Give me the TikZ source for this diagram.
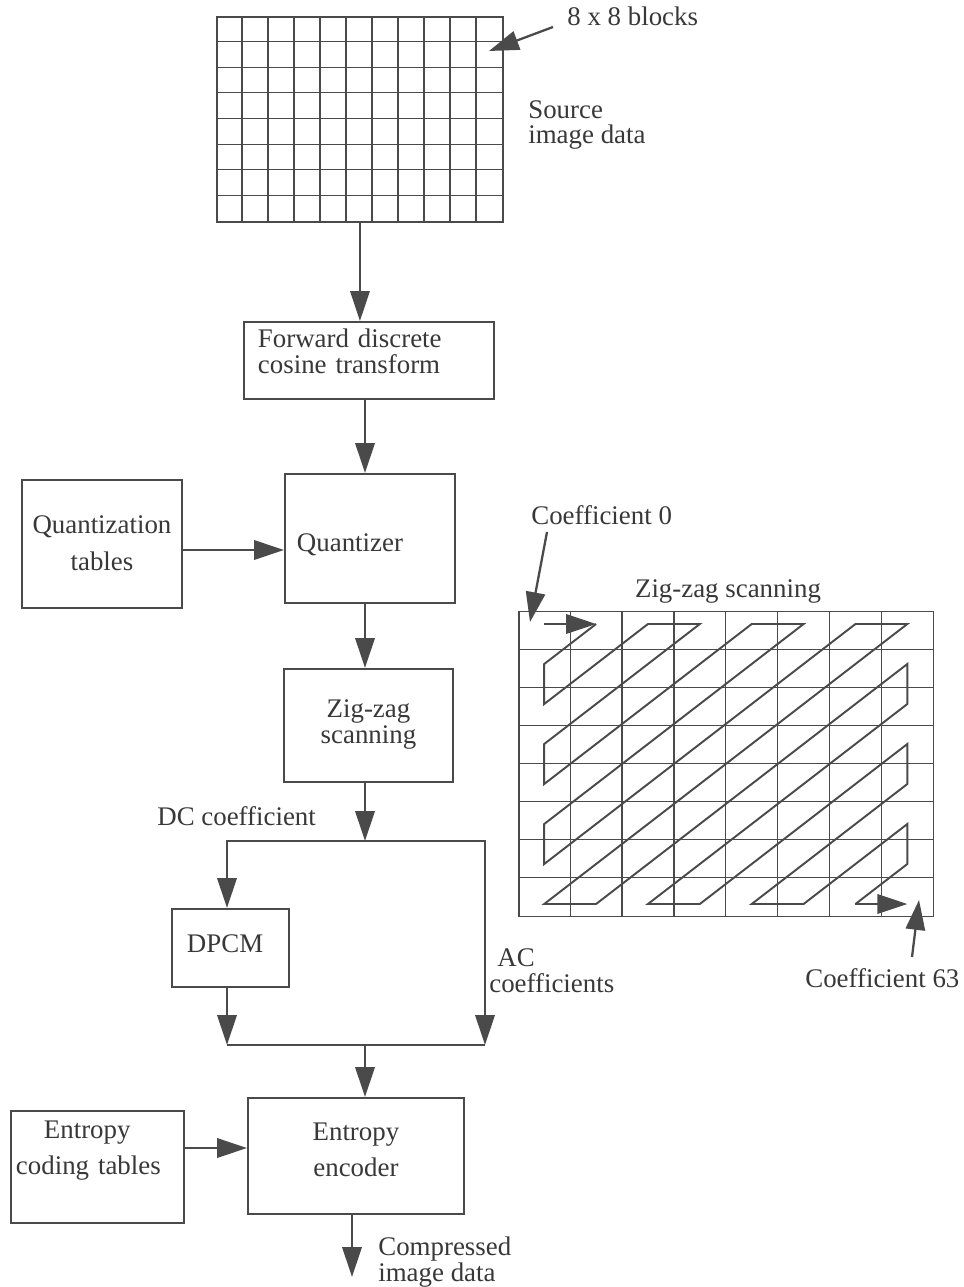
\documentclass[tikz,border=0pt]{standalone}
\usepackage{fontspec}
\setmainfont{Liberation Serif}
\usetikzlibrary{arrows.meta}
\definecolor{ink}{HTML}{4A4A4A}
\definecolor{inktext}{HTML}{383838}

\begin{document}
\begin{tikzpicture}[x=0.02cm, y=-0.02cm,
  every node/.style={font=\fontsize{15.3}{14.7}\selectfont, text=inktext},
  blockbox/.style={draw=ink, line width=1.1pt, inner ysep=0pt, anchor=north west},
  gridline/.style={draw=ink, line width=0.7pt},
  wire/.style={draw=ink, line width=1.3pt},
  flow/.style={wire, -{Triangle[length=17pt,width=11pt]}},
  zzline/.style={draw=ink, line width=1.1pt},
  lbl/.style={inner sep=0pt}]
  \useasboundingbox (0,0) rectangle (963,1287);

  % source image, 8 x 8 blocks
  \node[blockbox, inner sep=0pt, minimum width=5.72cm, minimum height=4.1cm] (src) at (216,16) {};
  \foreach \i in {1,...,10}{
    \draw[gridline] (216+26*\i,16) -- (216+26*\i,221);
  }
  \foreach \j in {1,...,7}{
    \draw[gridline] (216,16+25.625*\j) -- (502,16+25.625*\j);
  }
  \node[lbl, anchor=base west] (blocks) at (567,26) {8 x 8 blocks};
  \node[lbl, anchor=west, align=left] (srclbl) at (528,125) {Source\\image data};
  \coordinate (blockstail) at (553,27);
  \coordinate (blockstip) at (489,51);
  \draw[flow] (blockstail) -- (blockstip);

  % processing chain
  \node[blockbox, align=left, text width=4.44cm, inner xsep=0.28cm, text height=0.514cm, text depth=1.026cm] (fdct) at (243,321) {Forward discrete\\cosine transform};
  \node[blockbox, align=left, text width=2.92cm, inner xsep=0.24cm, text height=1.56cm, text depth=1.02cm] (quant) at (284,473) {Quantizer};
  \node[blockbox, align=center, text width=3.2cm, inner xsep=0pt, text height=1.08cm, text depth=1.48cm] (qtab) at (21,479) {Quantization\\[6.1pt]tables};
  \node[blockbox, align=center, text width=3.38cm, inner xsep=0pt, text height=0.98cm, text depth=1.28cm] (zig) at (283,668) {Zig-zag\\scanning};
  \node[blockbox, align=left, text width=1.74cm, inner xsep=0.3cm, text height=0.88cm, text depth=0.68cm] (dpcm) at (171,908) {DPCM};
  \node[blockbox, align=center, text width=4.32cm, inner xsep=0pt, text height=0.86cm, text depth=1.46cm] (enc) at (247,1097) {Entropy\\[5.7pt]encoder};
  \node[blockbox, align=left, text width=3.26cm, inner xsep=0.1cm, text height=0.56cm, text depth=1.68cm] (etab) at (10,1110) {\hspace*{0.56cm}Entropy\\[5.7pt]coding tables};

  \node[lbl, anchor=west] (dclbl) at (157,816) {DC coefficient};
  \node[lbl, anchor=west, align=left] (aclbl) at (489,971) {\hspace*{0.16cm}AC\\coefficients};
  \node[lbl, anchor=west, align=left] (outlbl) at (378,1262) {Compressed\\image data};

  \coordinate (spine) at (365,0);
  \coordinate (split) at (365,841);
  \coordinate (splitL) at (227,841);
  \coordinate (splitR) at (485,841);
  \coordinate (mergeL) at (227,1045);
  \coordinate (mergeR) at (485,1045);
  \coordinate (qlevel) at (0,550);
  \coordinate (elevel) at (0,1148);
  \coordinate (out) at (352,1277);

  \draw[flow] (src.south) -- (src.south |- fdct.north);
  \draw[flow] (fdct.south -| spine) -- (quant.north -| spine);
  \draw[flow] (qtab.east |- qlevel) -- (quant.west |- qlevel);
  \draw[flow] (quant.south -| spine) -- (zig.north -| spine);
  \draw[flow] (zig.south -| spine) -- (split);
  \draw[flow] (split) -- (splitL) -- (splitL |- dpcm.north);
  \draw[flow] (split) -- (splitR) -- (mergeR);
  \draw[flow] (dpcm.south -| mergeL) -- (mergeL);
  \draw[wire] (mergeL) -- (mergeR);
  \draw[flow] (mergeL -| spine) -- (enc.north -| spine);
  \draw[flow] (etab.east |- elevel) -- (enc.west |- elevel);
  \draw[flow] (enc.south -| out) -- (out);

  % zig-zag scanning of one block
  \node[draw=ink, line width=0.7pt, inner sep=0pt, minimum width=8.3cm, minimum height=6.1cm, anchor=north west] (zzgrid) at (518.3,611) {};
  \foreach \i in {1,...,7}{
    \draw[gridline] (518.3+51.875*\i,611) -- (518.3+51.875*\i,916);
    \draw[gridline] (518.3,611+38.125*\i) -- (933.3,611+38.125*\i);
  }
  \foreach \k in {0,...,7}{
    \foreach \m in {0,...,7}{
      \coordinate (z\k\m) at (544.2+51.875*\k,624+40*\m);
    }
  }
  \draw[zzline] (z10) -- (z01) -- (z02) -- (z20) -- (z30) -- (z03) -- (z04) -- (z40) -- (z50) -- (z05) -- (z06) -- (z60) -- (z70) -- (z07) -- (z17) -- (z71) -- (z72) -- (z27) -- (z37) -- (z73) -- (z74) -- (z47) -- (z57) -- (z75) -- (z76) -- (z67);
  \draw[flow] (z00) -- (z10);
  \draw[flow] (z67) -- (z77);

  \node[lbl] (zzlbl) at (728,591) {Zig-zag scanning};
  \node[lbl, anchor=west] (c0) at (531,515) {Coefficient 0};
  \node[lbl, anchor=west] (c63) at (805,978) {Coefficient 63};
  \coordinate (c0tail) at (547,532);
  \coordinate (c0tip) at (530,622);
  \draw[flow] (c0tail) -- (c0tip);
  \coordinate (c63tail) at (912,957);
  \coordinate (c63tip) at (919,900);
  \draw[flow] (c63tail) -- (c63tip);
\end{tikzpicture}
\end{document}
